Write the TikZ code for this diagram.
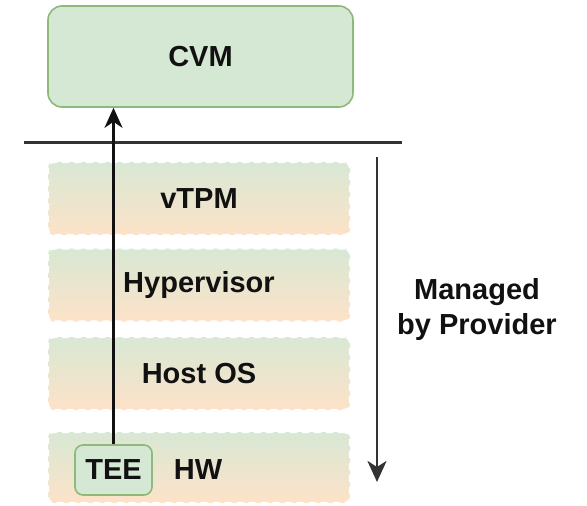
\documentclass[tikz,border=0pt]{standalone}
\usepackage{fontspec}
\setmainfont{Liberation Sans}
\usetikzlibrary{arrows.meta}

\definecolor{cvmfill}{HTML}{D5E8D4}
\definecolor{cvmline}{HTML}{8DB97A}
\definecolor{layertop}{HTML}{D8E8D4}
\definecolor{layerbot}{HTML}{FDE2C8}
\definecolor{rulegray}{HTML}{333333}
\definecolor{ink}{HTML}{111111}

\tikzset{
  label font/.style={font=\fontsize{29}{35}\selectfont\bfseries, text=ink},
  cvmbox/.style={label font, draw=cvmline, line width=1.6pt, fill=cvmfill,
    rounded corners=14pt, minimum width=305pt, minimum height=101pt, inner sep=0pt},
  layerbox/.style={label font, draw=white, line width=2.4pt, dash pattern=on 7pt off 5pt,
    top color=layertop, bottom color=layerbot, rounded corners=5pt,
    minimum width=302pt, minimum height=73pt, inner sep=0pt},
  teebox/.style={label font, draw=cvmline, line width=1.6pt, fill=cvmfill,
    rounded corners=8pt, minimum width=77pt, minimum height=50pt, inner sep=0pt},
  flow/.style={line width=2.4pt, draw=ink, -{Stealth[length=20pt, width=18pt, inset=6pt]}},
  scope arrow/.style={line width=2.8pt, draw=rulegray, -{Stealth[length=21pt, width=19pt, inset=6pt]}},
}

\begin{document}
\begin{tikzpicture}[x=1pt, y=-1pt]
  \useasboundingbox[fill=white] (0,0) rectangle (587,506);

  % guest side
  \node[cvmbox] (cvm) at (200.5,56.5) {CVM};

  % boundary between guest and provider
  \coordinate (bl) at (24,142);
  \coordinate (br) at (402,142);
  \draw[rulegray, line width=3pt] (bl) -- (br);

  % provider-managed stack
  \node[layerbox] (vtpm) at (199,198.5) {vTPM};
  \node[layerbox] (hyp)  at (199,285)   {Hypervisor};
  \node[layerbox] (host) at (199,373.5) {Host OS};
  \node[layerbox, minimum height=71pt] (hw) at (199,467.5) {};
  \node[label font] (hwtext) at (198,470) {HW};
  \node[teebox] (tee) at (113.5,470) {TEE};

  % attestation path from the TEE up to the CVM
  \draw[flow] (tee.north) -- (tee.north |- cvm.south);

  % provider scope
  \coordinate (st) at (377,157);
  \coordinate (sb) at (377,482);
  \draw[scope arrow] (st) -- (sb);
  \node[label font, align=center] (prov) at (477,309) {Managed\\by Provider};
\end{tikzpicture}
\end{document}
